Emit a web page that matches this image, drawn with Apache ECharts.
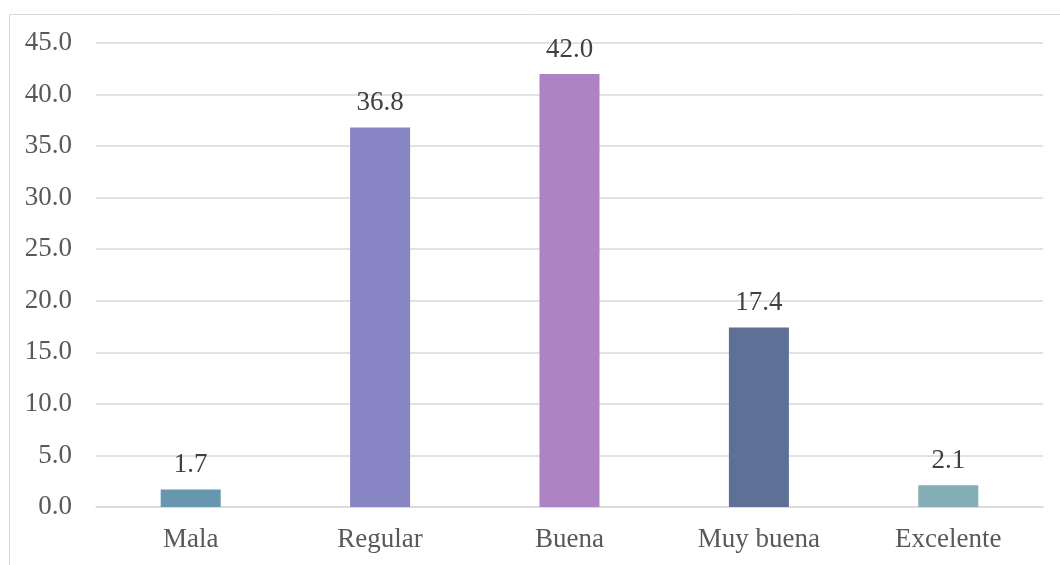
<!DOCTYPE html>
<html><head><meta charset="utf-8">
<script src="https://cdn.jsdelivr.net/npm/echarts@6/dist/echarts.min.js"></script>
<style>html,body{margin:0;padding:0;background:#fff}#c{width:1060px;height:565px}</style>
</head><body><div id="c"></div>
<script>
const categories = ["Mala", "Regular", "Buena", "Muy buena", "Excelente"];
const values = [1.7, 36.8, 42.0, 17.4, 2.1];
const barColors = ["#6797AE", "#8885C5", "#AD83C4", "#5E7096", "#84ADB5"];
const yTicks = [0, 5, 10, 15, 20, 25, 30, 35, 40, 45];

const font = '"Liberation Serif", "Times New Roman", serif';
const chart = echarts.init(document.getElementById('c'));
chart.setOption({
  animation: false,
  graphic: [{type: 'rect', shape: {x: 9.5, y: 14.5, width: 1100, height: 600}, style: {fill: 'none', stroke: '#d9d9d9', lineWidth: 1}}],
  grid: {left: 96, right: 17, top: 43, bottom: 58},
  xAxis: {
    type: 'category', data: categories,
    axisLine: {lineStyle: {color: '#d9d9d9', width: 1.5}},
    axisTick: {show: false},
    axisLabel: {color: '#595959', fontFamily: font, fontSize: 27, margin: 19}
  },
  yAxis: {
    type: 'value', min: yTicks[0], max: yTicks[yTicks.length - 1], interval: 5,
    axisLine: {show: false}, axisTick: {show: false},
    splitLine: {lineStyle: {color: '#d9d9d9', width: 1.5}},
    axisLabel: {color: '#595959', fontFamily: font, fontSize: 27, margin: 24,
      formatter: v => v.toFixed(1)}
  },
  series: [{
    type: 'bar', barWidth: 60,
    data: values.map((v, i) => ({value: v, itemStyle: {color: barColors[i]}})),
    label: {show: true, position: 'top', distance: 11, color: '#404040', fontFamily: font, fontSize: 27,
      formatter: p => p.value.toFixed(1)}
  }]
});
</script></body></html>
